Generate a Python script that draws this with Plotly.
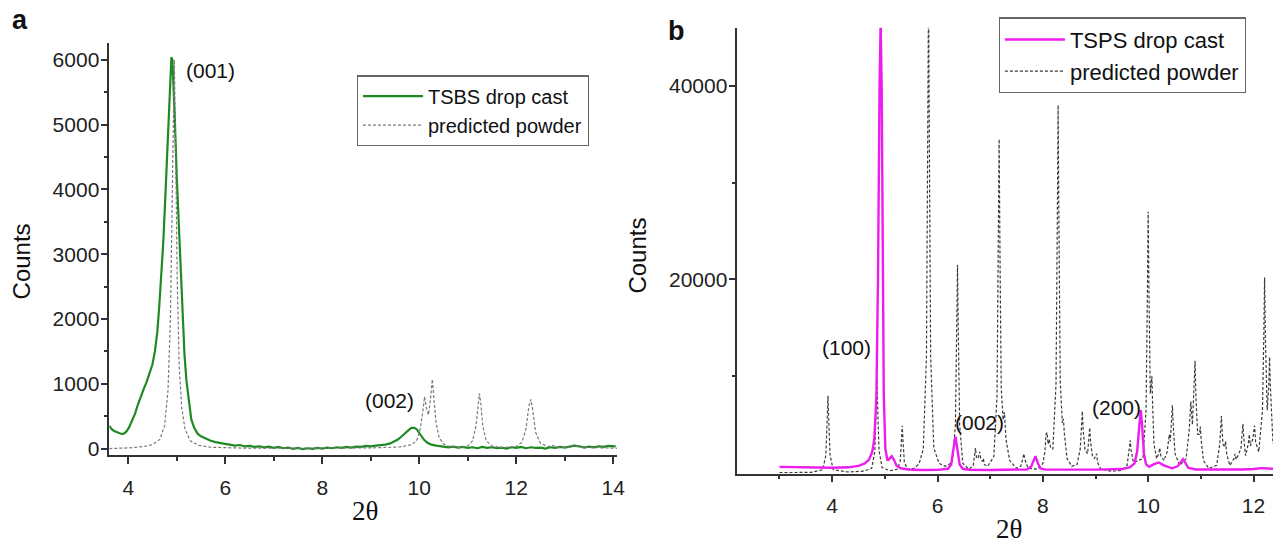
import plotly.graph_objects as go

# ---------------- Panel a data ----------------
tsbs_x = [3.61, 3.66, 3.71, 3.76, 3.81, 3.86, 3.91, 3.96, 4.02, 4.08, 4.14, 4.20, 4.26, 4.32, 4.38,
          4.44, 4.50, 4.55, 4.60, 4.64, 4.68, 4.72, 4.76, 4.80, 4.84, 4.87, 4.89, 4.91, 4.93, 4.96,
          5.00, 5.04, 5.08, 5.12, 5.16, 5.20, 5.25, 5.30, 5.36, 5.43, 5.50, 5.60, 5.70,
          5.80, 5.90, 6.00, 6.10, 6.20, 6.30, 6.40, 6.50, 6.60, 6.70, 6.80, 6.90, 7.00, 7.10, 7.20,
          7.30, 7.40, 7.50, 7.60, 7.70, 7.80, 7.90, 8.00, 8.10, 8.20, 8.30, 8.40, 8.50, 8.60, 8.70,
          8.80, 8.90, 9.00, 9.10, 9.20, 9.30, 9.40, 9.48, 9.56, 9.64, 9.72, 9.78, 9.84, 9.90, 9.95,
          10.00, 10.05, 10.10, 10.17, 10.25, 10.35, 10.45, 10.50, 10.60, 10.70, 10.80, 10.90, 11.00,
          11.10, 11.20, 11.30, 11.40, 11.50, 11.60, 11.70, 11.80, 11.90, 12.00, 12.10, 12.20, 12.30,
          12.40, 12.50, 12.60, 12.70, 12.80, 12.90, 13.00, 13.10, 13.20, 13.30, 13.40, 13.50, 13.60,
          13.70, 13.80, 13.90, 14.00, 14.05]
tsbs_y = [350, 300, 270, 255, 240, 225, 230, 260, 330, 430, 540, 680, 810, 920, 1030,
          1150, 1300, 1500, 1800, 2200, 2650, 3150, 3800, 4500, 5300, 5850, 6040, 6000, 5700, 5100,
          4200, 3500, 2700, 2000, 1450, 1050, 700, 450, 320, 230, 190, 150, 120,
          100, 85, 75, 65, 45, 55, 35, 40, 25, 35, 20, 30, 10, 25, 5,
          15, -5, 10, -10, 5, -5, 10, 0, 15, 5, 20, 10, 25, 15, 30,
          25, 40, 35, 45, 50, 60, 80, 105, 140, 190, 250, 285, 320, 320, 295,
          245, 190, 135, 90, 60, 45, 35, 35, 20, 30, 15, 25, 10,
          20, 5, 25, 10, 20, 5, 15, 0, 20, 10, 25, 5, 20,
          10, 15, 0, 20, 10, 25, 15, 30, 45, 35, 15, 30, 20,
          35, 25, 40, 30, 35]

powder_a_x = [3.61, 4.00, 4.30, 4.50, 4.65, 4.75, 4.82, 4.87, 4.91, 4.95, 4.98, 5.01, 5.05, 5.10,
              5.17, 5.28, 5.45, 5.70, 6.50, 8.00, 9.00, 9.60, 9.85, 9.95, 10.02, 10.07, 10.11, 10.15,
              10.19, 10.23, 10.27, 10.31, 10.35, 10.41, 10.50, 10.65, 10.85, 11.00, 11.10, 11.17,
              11.21, 11.24, 11.27, 11.31, 11.38, 11.50, 11.70, 12.00, 12.12, 12.20, 12.26, 12.30,
              12.34, 12.40, 12.50, 12.65, 12.75, 12.85, 13.10, 13.20, 13.30, 13.60, 14.08]
powder_a_y = [0, 10, 30, 60, 140, 350, 900, 2000, 4000, 6000, 4500, 2600, 1300, 650,
              300, 120, 50, 20, 5, 5, 10, 25, 60, 130, 300, 550, 800, 620,
              520, 750, 1070, 700, 380, 170, 70, 25, 15, 40, 120, 350,
              700, 850, 700, 350, 120, 40, 15, 30, 100, 300, 650, 760,
              600, 250, 80, 30, 50, 20, 20, 60, 20, 10, 5]

# ---------------- Panel b data ----------------
tsps_x = [3.00, 3.50, 4.00, 4.30, 4.50, 4.62, 4.70, 4.76, 4.80, 4.84, 4.87, 4.90, 4.92, 4.94,
          4.96, 4.98, 5.01, 5.05, 5.09, 5.13, 5.17, 5.22, 5.30, 5.45, 5.70, 6.00, 6.20, 6.26,
          6.30, 6.34, 6.38, 6.42, 6.48, 6.60, 7.00, 7.50, 7.70, 7.78, 7.82, 7.86, 7.90, 7.95,
          8.05, 8.50, 9.00, 9.50, 9.65, 9.74, 9.79, 9.83, 9.86, 9.89, 9.92, 9.96, 10.02, 10.10,
          10.20, 10.30, 10.45, 10.56, 10.62, 10.66, 10.70, 10.76, 10.90, 11.30, 11.80, 12.00,
          12.15, 12.37]
tsps_y = [650, 600, 560, 600, 750, 1000, 1400, 2200, 3500, 8000, 20000, 40000, 46500, 40000,
          20000, 8000, 2500, 1300, 1500, 1750, 1400, 800, 500, 380, 330, 340, 450, 900,
          2400, 3800, 2400, 900, 450, 350, 330, 320, 380, 700, 1300, 1750, 1100, 500,
          360, 340, 360, 420, 600, 1000, 2200, 4800, 6500, 4500, 2000, 900, 650, 900,
          1100, 800, 500, 700, 1100, 1450, 1100, 550, 380, 360, 380, 420,
          520, 450]

powder_b_x = [3.00, 3.60, 3.82, 3.88, 3.905, 3.92, 3.935, 3.96, 4.02, 4.30, 4.60, 4.75, 4.81,
              4.835, 4.85, 4.865, 4.89, 4.95, 5.10, 5.23, 5.29, 5.315, 5.33, 5.345, 5.37, 5.43,
              5.55, 5.65, 5.73, 5.79, 5.815, 5.83, 5.845, 5.87, 5.93, 6.03, 6.15, 6.28, 6.34,
              6.365, 6.38, 6.395, 6.42, 6.48, 6.60, 6.68, 6.705, 6.72, 6.74, 6.77, 6.785, 6.80,
              6.82, 6.855, 6.87, 6.89, 6.95, 7.07, 7.13, 7.155, 7.17, 7.185, 7.21, 7.245, 7.27,
              7.30, 7.37, 7.50, 7.58, 7.62, 7.64, 7.66, 7.72, 7.90, 8.00, 8.04, 8.06, 8.08, 8.10,
              8.12, 8.15, 8.19, 8.25, 8.275, 8.29, 8.305, 8.33, 8.37, 8.39, 8.41, 8.46, 8.55,
              8.65, 8.71, 8.735, 8.75, 8.765, 8.80, 8.85, 8.875, 8.89, 8.905, 8.94, 8.98, 9.02,
              9.04, 9.10, 9.30, 9.50, 9.60, 9.645, 9.66, 9.675, 9.72, 9.90, 9.96, 9.985, 10.00,
              10.015, 10.04, 10.055, 10.07, 10.085, 10.11, 10.16, 10.20, 10.22, 10.24, 10.30,
              10.36, 10.385, 10.40, 10.42, 10.445, 10.46, 10.475, 10.51, 10.60, 10.72, 10.78,
              10.81, 10.84, 10.875, 10.89, 10.905, 10.94, 10.975, 10.99, 11.005, 11.05, 11.15,
              11.30, 11.36, 11.39, 11.42, 11.455, 11.47, 11.49, 11.55, 11.63, 11.65, 11.67, 11.76,
              11.785, 11.80, 11.815, 11.85, 11.90, 11.92, 11.94, 11.985, 12.02, 12.04, 12.10,
              12.17, 12.195, 12.21, 12.225, 12.26, 12.29, 12.305, 12.32, 12.37]
powder_b_y = [50, 80, 350, 1840, 5440, 8000, 5440, 1840, 360, 120, 200, 500, 2250,
              6660, 9800, 6660, 2300, 550, 250, 400, 1130, 3330, 4900, 3330, 1150, 400,
              500, 950, 2500, 12000, 34000, 50000, 34000, 12000, 2600, 1000, 700, 1100, 5000,
              14600, 21500, 14600, 5000, 1000, 400, 800, 1900, 2600, 1600, 1500, 1900, 2200,
              1500, 1200, 1500, 900, 700, 1700, 8000, 23500, 34500, 23500, 8800, 5500, 6300,
              3500, 1300, 500, 700, 1500, 2000, 1400, 500, 400, 1000, 2200, 4000, 4200, 3000,
              3500, 2600, 2500, 9200, 26000, 38000, 26000, 9500, 5200, 5600, 4000, 1500, 700,
              900, 2500, 4600, 6400, 4500, 2400, 2000, 3400, 4700, 3300, 1800, 1500, 2000,
              1100, 400, 200, 300, 800, 2400, 3400, 2400, 1100, 1500, 6500, 18500, 27000,
              18700, 8200, 9000, 10000, 7000, 3000, 1500, 2000, 2600, 1800, 1300,
              2200, 3300, 4000, 3300, 5200, 7000, 5000, 2000, 800, 1500, 4500,
              7400, 5000, 9000, 11600, 8000, 4000, 4000, 4800, 3500, 1300, 500,
              800, 3000, 5900, 3000, 2700, 3300, 2000, 800, 1500, 2000, 1400, 2500,
              3800, 5100, 3600, 1800, 3000, 4000, 2800, 3500, 4900, 3200, 2200,
              6500, 14000, 20200, 14000, 6500, 9000, 12000, 9000, 3000]

# tick values
ticks_a_y = [0, 1000, 2000, 3000, 4000, 5000, 6000]
ticks_b_y = [20000, 40000]
minor_b_y = [10000, 30000]

# peak labels (data coordinates)
labels_a = ["(001)", "(002)"]
labels_a_x = [5.70, 9.39]
labels_a_y = [5830, 745]
labels_b = ["(100)", "(002)", "(200)"]
labels_b_x = [4.28, 6.79, 9.39]
labels_b_y = [12940, 5270, 6800]

W, H = 1281, 545
FONT = "Liberation Sans, Arial, sans-serif"
SERIF = "Liberation Serif, Times New Roman, serif"
AX = "#333333"


def px(x):
    return x / W


def py(y):
    return 1 - y / H


fig = go.Figure()
fig.add_trace(go.Scatter(x=tsbs_x, y=tsbs_y, mode="lines", name="TSBS drop cast",
                         line=dict(color="#1f8a22", width=2.2), xaxis="x", yaxis="y",
                         legend="legend", legendrank=1))
fig.add_trace(go.Scatter(x=powder_a_x, y=powder_a_y, mode="lines", name="predicted powder",
                         line=dict(color="#7a7a7a", width=1.2, dash="3px,2px"), xaxis="x",
                         yaxis="y", legend="legend", legendrank=2))
fig.add_trace(go.Scatter(x=powder_b_x, y=powder_b_y, mode="lines", name="predicted powder",
                         line=dict(color="#3a3a3a", width=1.2, dash="3px,2px"), xaxis="x2",
                         yaxis="y2", legend="legend2", legendrank=2))
fig.add_trace(go.Scatter(x=tsps_x, y=tsps_y, mode="lines", name="TSPS drop cast",
                         line=dict(color="#ee1cee", width=2.4), xaxis="x2", yaxis="y2",
                         legend="legend2", legendrank=1))

common_axis = dict(showline=True, linecolor=AX, linewidth=1.6, ticks="outside", ticklen=7,
                   tickwidth=1.5, tickcolor=AX, showgrid=False, zeroline=False,
                   tickformat="d",
                   tickfont=dict(family=FONT, size=21, color="#222"))

fig.update_layout(
    width=W, height=H,
    margin=dict(l=0, r=0, t=0, b=0),
    paper_bgcolor="white", plot_bgcolor="white",
    font=dict(family=FONT, color="#222"),
    xaxis=dict(domain=[px(110), px(621)], range=[3.61, 14.08], anchor="y", tick0=0, dtick=2,
               minor=dict(dtick=1, ticks="outside", ticklen=4, tickwidth=1.5, tickcolor=AX),
               ticklabelstandoff=6, **common_axis),
    yaxis=dict(domain=[py(459), py(43)], range=[-96, 6265], anchor="x", tickmode="array",
               tickvals=ticks_a_y,
               minor=dict(dtick=500, tick0=0, ticks="outside", ticklen=4, tickwidth=1.5,
                          tickcolor=AX),
               ticklabelstandoff=-3, **common_axis),
    xaxis2=dict(domain=[px(742), 1.0], range=[2.20, 12.37], anchor="y2", tick0=0, dtick=2,
                minor=dict(dtick=1, ticks="outside", ticklen=4, tickwidth=1.5, tickcolor=AX),
                ticklabelstandoff=5, **common_axis),
    yaxis2=dict(domain=[py(478), py(28)], range=[-50, 46000], anchor="x2", tickmode="array",
                tickvals=ticks_b_y,
                minor=dict(tickmode="array", tickvals=minor_b_y, ticks="outside", ticklen=4,
                           tickwidth=1.5, tickcolor=AX),
                ticklabelstandoff=-3, **common_axis),
    showlegend=True,
    legend=dict(x=px(359), y=py(112), xanchor="left", yanchor="middle", bordercolor="#666",
                borderwidth=1.2, bgcolor="white", font=dict(family=FONT, size=20, color="#111"),
                tracegroupgap=0, itemwidth=60, traceorder="normal"),
    legend2=dict(x=px(1005), y=py(56), xanchor="left", yanchor="middle", bordercolor="#666",
                 borderwidth=1.2, bgcolor="white", font=dict(family=FONT, size=22, color="#111"),
                 tracegroupgap=0, itemwidth=60, traceorder="normal"),
)

annots = []
for t, x, y in zip(labels_a, labels_a_x, labels_a_y):
    annots.append(dict(text=t, x=x, y=y, xref="x", yref="y", showarrow=False,
                       xanchor="center", yanchor="middle",
                       font=dict(family=FONT, size=21, color="#111")))
for t, x, y in zip(labels_b, labels_b_x, labels_b_y):
    annots.append(dict(text=t, x=x, y=y, xref="x2", yref="y2", showarrow=False,
                       xanchor="center", yanchor="middle",
                       font=dict(family=FONT, size=21, color="#111")))


def note(text, x, y, size, family=FONT, angle=0):
    return dict(text=text, x=px(x), y=py(y), xref="paper", yref="paper", showarrow=False,
                xanchor="center", yanchor="middle", textangle=angle,
                font=dict(family=family, size=size, color="#111"))


# axis titles and panel letters
annots += [
    note("Counts", 22, 264, 24, angle=-90),
    note("Counts", 642, 258, 24, angle=-90),
    note("2θ", 367, 516, 27, family=SERIF),
    note("2θ", 1015, 534, 27, family=SERIF),
    note("<b>a</b>", 20, 20, 27),
    note("<b>b</b>", 681, 31, 27),
]
fig.update_layout(annotations=annots)

fig.write_html("out.html")
